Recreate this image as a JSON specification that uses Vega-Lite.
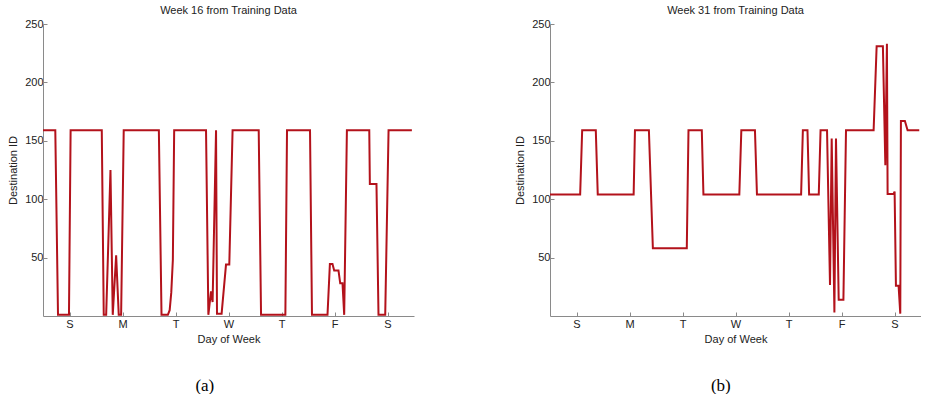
{
  "$schema": "https://vega.github.io/schema/vega-lite/v6.json",
  "padding": {"left": 7, "top": 5, "right": 0, "bottom": 0},
  "background": "white",
  "config": {
    "font": "Liberation Sans",
    "view": {"stroke": null},
    "axis": {
      "domainColor": "#8a8a8a",
      "tickColor": "#8a8a8a",
      "tickSize": -4,
      "grid": false,
      "labelFontSize": 11,
      "titleFontSize": 11,
      "labelColor": "#222222",
      "titleColor": "#222222",
      "titleFontWeight": "normal",
      "labelFont": "Liberation Sans",
      "titleFont": "Liberation Sans"
    },
    "title": {"font": "Liberation Sans", "fontSize": 11, "fontWeight": "normal", "color": "#222222"},
    "concat": {"spacing": 100}
  },
  "datasets": {
    "a": [
      {"day": 0, "dest": 159}, {"day": 0.232, "dest": 159}, {"day": 0.283, "dest": 1}, {"day": 0.49, "dest": 1},
      {"day": 0.521, "dest": 159}, {"day": 1.109, "dest": 159}, {"day": 1.146, "dest": 1}, {"day": 1.192, "dest": 1},
      {"day": 1.273, "dest": 125}, {"day": 1.316, "dest": 1}, {"day": 1.38, "dest": 52}, {"day": 1.429, "dest": 1},
      {"day": 1.474, "dest": 1}, {"day": 1.523, "dest": 159}, {"day": 2.186, "dest": 159}, {"day": 2.236, "dest": 1},
      {"day": 2.356, "dest": 1}, {"day": 2.39, "dest": 5}, {"day": 2.42, "dest": 20}, {"day": 2.45, "dest": 48},
      {"day": 2.475, "dest": 159}, {"day": 3.076, "dest": 159}, {"day": 3.12, "dest": 1}, {"day": 3.17, "dest": 21},
      {"day": 3.2, "dest": 12}, {"day": 3.265, "dest": 159}, {"day": 3.283, "dest": 2}, {"day": 3.37, "dest": 2},
      {"day": 3.453, "dest": 44}, {"day": 3.515, "dest": 44}, {"day": 3.577, "dest": 159}, {"day": 4.07, "dest": 159},
      {"day": 4.114, "dest": 1}, {"day": 4.573, "dest": 1}, {"day": 4.604, "dest": 159}, {"day": 5.038, "dest": 159},
      {"day": 5.075, "dest": 1}, {"day": 5.368, "dest": 1}, {"day": 5.413, "dest": 44.5}, {"day": 5.462, "dest": 44.5},
      {"day": 5.494, "dest": 39}, {"day": 5.575, "dest": 39}, {"day": 5.608, "dest": 28}, {"day": 5.651, "dest": 28},
      {"day": 5.683, "dest": 1}, {"day": 5.734, "dest": 159}, {"day": 6.156, "dest": 159}, {"day": 6.167, "dest": 113},
      {"day": 6.292, "dest": 113}, {"day": 6.33, "dest": 1}, {"day": 6.457, "dest": 1}, {"day": 6.52, "dest": 159},
      {"day": 6.96, "dest": 159}
    ],
    "b": [
      {"day": 0, "dest": 104}, {"day": 0.569, "dest": 104}, {"day": 0.607, "dest": 159}, {"day": 0.864, "dest": 159},
      {"day": 0.901, "dest": 104}, {"day": 1.578, "dest": 104}, {"day": 1.603, "dest": 159}, {"day": 1.866, "dest": 159},
      {"day": 1.941, "dest": 58}, {"day": 2.581, "dest": 58}, {"day": 2.613, "dest": 159}, {"day": 2.864, "dest": 159},
      {"day": 2.895, "dest": 104}, {"day": 3.572, "dest": 104}, {"day": 3.61, "dest": 159}, {"day": 3.867, "dest": 159},
      {"day": 3.905, "dest": 104}, {"day": 4.738, "dest": 104}, {"day": 4.771, "dest": 159}, {"day": 4.858, "dest": 159},
      {"day": 4.889, "dest": 104}, {"day": 5.071, "dest": 104}, {"day": 5.105, "dest": 159}, {"day": 5.227, "dest": 159},
      {"day": 5.283, "dest": 26.5}, {"day": 5.315, "dest": 152}, {"day": 5.366, "dest": 3}, {"day": 5.396, "dest": 152},
      {"day": 5.447, "dest": 14}, {"day": 5.536, "dest": 14}, {"day": 5.585, "dest": 159}, {"day": 6.106, "dest": 159},
      {"day": 6.163, "dest": 231}, {"day": 6.281, "dest": 231}, {"day": 6.327, "dest": 129}, {"day": 6.357, "dest": 233},
      {"day": 6.37, "dest": 104.5}, {"day": 6.483, "dest": 104.5}, {"day": 6.502, "dest": 106.5}, {"day": 6.527, "dest": 26},
      {"day": 6.577, "dest": 26}, {"day": 6.609, "dest": 2}, {"day": 6.621, "dest": 167}, {"day": 6.696, "dest": 167},
      {"day": 6.747, "dest": 159}, {"day": 6.967, "dest": 159}
    ]
  },
  "hconcat": [
    {
      "title": {"text": "(a)", "orient": "bottom", "anchor": "middle", "frame": "bounds", "font": "Liberation Serif", "fontSize": 17, "color": "#000000", "offset": 34, "dx": -6},
      "vconcat": [
        {
          "title": {"text": "Week 16 from Training Data", "anchor": "middle", "frame": "group", "offset": 2},
          "width": 371,
          "height": 292,
          "data": {"name": "a"},
          "mark": {"type": "line", "color": "#B3121B", "strokeWidth": 2, "clip": true},
          "encoding": {
            "x": {"field": "day", "type": "quantitative", "scale": {"domain": [0, 7], "nice": false, "zero": false},
                  "axis": {"title": "Day of Week", "values": [0.5, 1.5, 2.5, 3.5, 4.5, 5.5, 6.5], "labelExpr": "['S','M','T','W','T','F','S'][floor(datum.value)]", "labelPadding": 6, "titlePadding": 4}},
            "y": {"field": "dest", "type": "quantitative", "scale": {"domain": [0, 250], "nice": false},
                  "axis": {"title": "Destination ID", "values": [50, 100, 150, 200, 250], "labelPadding": 4, "titlePadding": 6}}
          }
        }
      ]
    },
    {
      "title": {"text": "(b)", "orient": "bottom", "anchor": "middle", "frame": "bounds", "font": "Liberation Serif", "fontSize": 17, "color": "#000000", "offset": 34, "dx": 3},
      "vconcat": [
        {
          "title": {"text": "Week 31 from Training Data", "anchor": "middle", "frame": "group", "offset": 2},
          "width": 371,
          "height": 292,
          "data": {"name": "b"},
          "mark": {"type": "line", "color": "#B3121B", "strokeWidth": 2, "clip": true},
          "encoding": {
            "x": {"field": "day", "type": "quantitative", "scale": {"domain": [0, 7], "nice": false, "zero": false},
                  "axis": {"title": "Day of Week", "values": [0.5, 1.5, 2.5, 3.5, 4.5, 5.5, 6.5], "labelExpr": "['S','M','T','W','T','F','S'][floor(datum.value)]", "labelPadding": 6, "titlePadding": 4}},
            "y": {"field": "dest", "type": "quantitative", "scale": {"domain": [0, 250], "nice": false},
                  "axis": {"title": "Destination ID", "values": [50, 100, 150, 200, 250], "labelPadding": 4, "titlePadding": 6}}
          }
        }
      ]
    }
  ]
}
